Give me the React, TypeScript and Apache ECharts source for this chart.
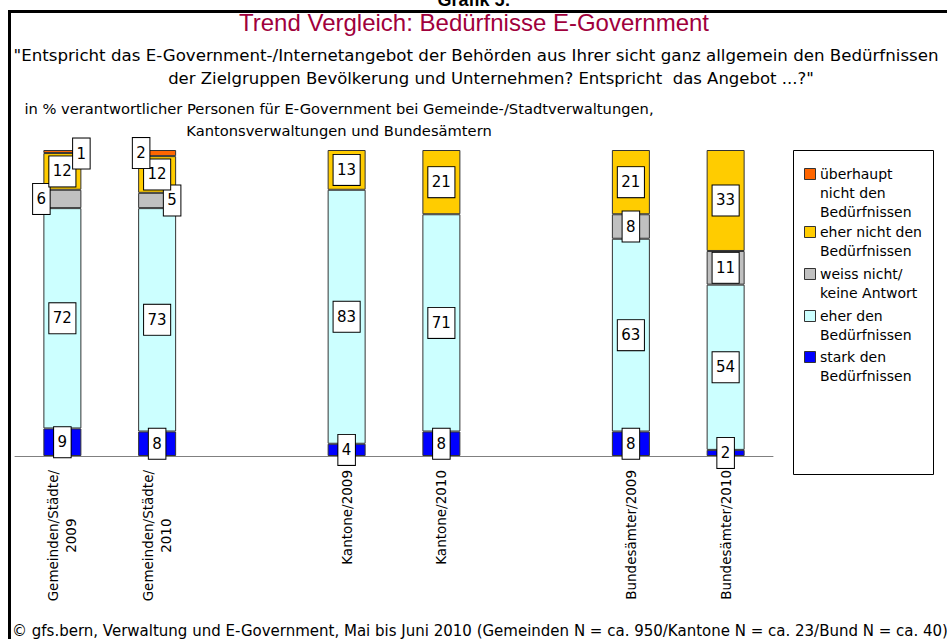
import React, { useEffect, useRef } from 'react';
import * as echarts from 'echarts';

// ---- data ----
const categories = [
  'Gemeinden/Städte/\n2009',
  'Gemeinden/Städte/\n2010',
  '',
  'Kantone/2009',
  'Kantone/2010',
  '',
  'Bundesämter/2009',
  'Bundesämter/2010',
];

const seriesNames = [
  'stark den Bedürfnissen',
  'eher den Bedürfnissen',
  'weiss nicht/ keine Antwort',
  'eher nicht den Bedürfnissen',
  'überhaupt nicht den Bedürfnissen',
];

const starkDen = [9, 8, null, 4, 8, null, 8, 2];
const eherDen = [72, 73, null, 83, 71, null, 63, 54];
const weissNicht = [6, 5, null, 0, 0, null, 8, 11];
const eherNicht = [12, 12, null, 13, 21, null, 21, 33];
const ueberhaupt = [1, 2, null, 0, 0, null, 0, 0];

const legendLines = [
  ['überhaupt', 'nicht den', 'Bedürfnissen'],
  ['eher nicht den', 'Bedürfnissen'],
  ['weiss nicht/', 'keine Antwort'],
  ['eher den', 'Bedürfnissen'],
  ['stark den', 'Bedürfnissen'],
];

const titleText = 'Trend Vergleich: Bedürfnisse E-Government';
const questionLine1 =
  '"Entspricht das E-Government-/Internetangebot der Behörden aus Ihrer sicht ganz allgemein den Bedürfnissen';
const questionLine2 = 'der Zielgruppen Bevölkerung und Unternehmen? Entspricht  das Angebot ...?"';
const basisLine1 = 'in % verantwortlicher Personen für E-Government bei Gemeinde-/Stadtverwaltungen,';
const basisLine2 = 'Kantonsverwaltungen und Bundesämtern';
const footerText =
  '© gfs.bern, Verwaltung und E-Government, Mai bis Juni 2010 (Gemeinden N = ca. 950/Kantone N = ca. 23/Bund N = ca. 40)';

// ---- styles ----
const colors = ['#0000FF', '#CCFFFF', '#C0C0C0', '#FFCC00', '#FF6600'];
const seriesValues = [starkDen, eherDen, weissNicht, eherNicht, ueberhaupt];
// label offsets for small segments (series index -> per-category offset)
const labelOffsets: Record<number, Record<number, number[]>> = {
  2: { 0: [-21, 0], 1: [15, 0] },
  4: { 0: [19, 2], 1: [-16, 0] },
};

const FONT = '"DejaVu Sans", sans-serif';
const SANS = '"Liberation Sans", Arial, sans-serif';

export default function App() {
  const ref = useRef<HTMLDivElement>(null);

  useEffect(() => {
    if (!ref.current) return;
    const chart = echarts.init(ref.current, undefined, { renderer: 'svg' });

    const series = seriesValues.map((vals, si) => ({
      name: seriesNames[si],
      type: 'bar',
      stack: 'total',
      barWidth: 38,
      itemStyle: { color: colors[si], borderColor: '#333', borderWidth: 1 },
      label: {
        show: true,
        position: 'inside',
        color: '#000',
        fontFamily: FONT,
        fontSize: 15,
        lineHeight: 18,
        backgroundColor: '#fff',
        borderColor: '#000',
        borderWidth: 1,
        padding: [6, 3.5],
      },
      data: vals.map((v, ci) => {
        if (v === null || v === 0) return '-';
        const off = labelOffsets[si] && labelOffsets[si][ci];
        return off ? { value: v, label: { offset: off } } : v;
      }),
    }));

    const legendGraphics: any[] = [
      {
        type: 'rect',
        shape: { x: 793.5, y: 150.5, width: 140, height: 324 },
        style: { fill: '#fff', stroke: '#000', lineWidth: 1 },
      },
    ];
    const legendOrder = [4, 3, 2, 1, 0];
    const firstLineY = [174, 232, 274, 316, 357];
    legendOrder.forEach((si, k) => {
      legendGraphics.push({
        type: 'rect',
        shape: { x: 804.5, y: firstLineY[k] - 5.5, width: 11, height: 11 },
        style: { fill: colors[si], stroke: '#333', lineWidth: 1 },
      });
      legendGraphics.push({
        type: 'text',
        x: 820,
        y: firstLineY[k] - 9.5,
        style: {
          text: legendLines[k].join('\n'),
          font: `14px ${FONT}`,
          lineHeight: 19,
          fill: '#000',
          verticalAlign: 'top',
        },
      });
    });

    const option: any = {
      animation: false,
      grid: { left: 15, right: 174, top: 150, bottom: 183, containLabel: false },
      xAxis: {
        type: 'category',
        data: categories,
        axisLine: { lineStyle: { color: '#808080', width: 1 } },
        axisTick: { length: 7, lineStyle: { color: '#808080' } },
        axisLabel: {
          interval: 0,
          rotate: 90,
          margin: 14,
          color: '#000',
          formatter: (v: string) =>
            v ? v.split('\n').map((s) => `{c|${s}}`).join('\n') : '',
          rich: {
            c: { align: 'center', fontFamily: FONT, fontSize: 13.5, lineHeight: 18, color: '#000' },
          },
        },
      },
      yAxis: { type: 'value', min: 0, max: 100, show: false },
      series,
      graphic: [
        {
          type: 'rect',
          shape: { x: 9.5, y: 11.5, width: 1000, height: 700 },
          style: { fill: 'none', stroke: '#000', lineWidth: 3 },
          silent: true,
        },
        {
          type: 'text',
          x: 474,
          y: 0,
          style: { text: 'Grafik 5:', font: `bold 18px ${SANS}`, fill: '#000', align: 'center', verticalAlign: 'middle' },
        },
        {
          type: 'text',
          x: 474,
          y: 22,
          style: { text: titleText, font: `24px ${SANS}`, fill: '#A0003C', align: 'center', verticalAlign: 'middle' },
        },
        {
          type: 'text',
          x: 476,
          y: 55,
          style: { text: questionLine1, font: `16.65px ${FONT}`, fill: '#000', align: 'center', verticalAlign: 'middle' },
        },
        {
          type: 'text',
          x: 491,
          y: 78,
          style: { text: questionLine2, font: `16.5px ${FONT}`, fill: '#000', align: 'center', verticalAlign: 'middle' },
        },
        {
          type: 'text',
          x: 339,
          y: 108,
          style: { text: basisLine1, font: `14.7px ${FONT}`, fill: '#000', align: 'center', verticalAlign: 'middle' },
        },
        {
          type: 'text',
          x: 339,
          y: 130,
          style: { text: basisLine2, font: `14.7px ${FONT}`, fill: '#000', align: 'center', verticalAlign: 'middle' },
        },
        {
          type: 'text',
          x: 12,
          y: 631,
          style: { text: footerText, font: `15px ${FONT}`, fill: '#000', align: 'left', verticalAlign: 'middle' },
        },
        ...legendGraphics,
      ],
    };

    chart.setOption(option);
    return () => chart.dispose();
  }, []);

  return (
    <div
      ref={ref}
      style={{ position: 'fixed', left: 0, top: 0, width: 947, height: 639, background: '#fff' }}
    />
  );
}
